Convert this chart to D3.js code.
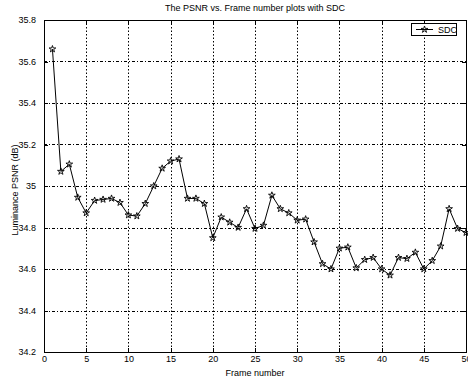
<!DOCTYPE html>
<html>
<head>
<meta charset="utf-8">
<style>
  body { margin: 0; background: #fff; }
  svg { font-family: "Liberation Sans", Arial, sans-serif; }
  .grid-h line { stroke: #000; stroke-width: 1; stroke-dasharray: 3,2,1,2; }
  .grid-v line { stroke: #000; stroke-width: 1; stroke-dasharray: 1.5,2; }
  .axis path, .axis line { stroke: #000; shape-rendering: crispEdges; }
  .axis text { font-size: 9px; fill: #000; }
</style>
</head>
<body>
<svg id="chart" width="468" height="378"></svg>
<script src="https://cdn.jsdelivr.net/npm/d3@7/dist/d3.min.js"></script>
<script>
// frame numbers and luminance PSNR values
let frames = d3.range(1, 51)
let psnr = [35.66, 35.07, 35.105, 34.945, 34.87, 34.93, 34.935, 34.94, 34.92, 34.86,
            34.855, 34.915, 35.0, 35.085, 35.12, 35.13, 34.94, 34.94, 34.915, 34.75,
            34.85, 34.825, 34.80, 34.89, 34.795, 34.81, 34.955, 34.89, 34.87, 34.835,
            34.84, 34.73, 34.625, 34.60, 34.70, 34.705, 34.605, 34.645, 34.655, 34.60,
            34.57, 34.655, 34.65, 34.68, 34.60, 34.64, 34.71, 34.89, 34.795, 34.775]
let xTicks = [0, 5, 10, 15, 20, 25, 30, 35, 40, 45, 50]
let yTicks = [34.2, 34.4, 34.6, 34.8, 35, 35.2, 35.4, 35.6, 35.8]
let yTickLabels = ["34.2", "34.4", "34.6", "34.8", "35", "35.2", "35.4", "35.6", "35.8"]
let seriesName = "SDC"

let svg = d3.select("#chart")
let pLeft = 44, pRight = 466, pTop = 20, pBottom = 352

let xScale = d3.scaleLinear().domain([0, 50]).range([pLeft, pRight])
let yScale = d3.scaleLinear().domain([34.2, 35.8]).range([pBottom, pTop])

// grid lines
svg.append("g").attr("class", "grid-h")
  .selectAll("line").data(yTicks.slice(1, -1)).join("line")
  .attr("x1", pLeft).attr("x2", pRight)
  .attr("y1", d => Math.round(yScale(d)) + 0.5).attr("y2", d => Math.round(yScale(d)) + 0.5)

svg.append("g").attr("class", "grid-v")
  .selectAll("line").data(xTicks.slice(1, -1)).join("line")
  .attr("y1", pTop).attr("y2", pBottom)
  .attr("x1", d => Math.round(xScale(d)) + 0.5).attr("x2", d => Math.round(xScale(d)) + 0.5)

// axes (ticks inward, box all round)
svg.append("g").attr("class", "axis")
  .attr("transform", "translate(0," + pBottom + ")")
  .call(d3.axisBottom(xScale).tickValues(xTicks).tickSize(-4).tickPadding(4))

svg.append("g").attr("class", "axis")
  .attr("transform", "translate(0," + pTop + ")")
  .call(d3.axisTop(xScale).tickValues(xTicks).tickSize(-4).tickFormat(""))

svg.append("g").attr("class", "axis")
  .attr("transform", "translate(" + pLeft + ",0)")
  .call(d3.axisLeft(yScale).tickValues(yTicks).tickSize(-4).tickPadding(8)
    .tickFormat((d, i) => yTickLabels[i]))

svg.append("g").attr("class", "axis")
  .attr("transform", "translate(" + pRight + ",0)")
  .call(d3.axisRight(yScale).tickValues(yTicks).tickSize(-4).tickFormat(""))

// data line
let valueLine = d3.line()
  .x((d, i) => xScale(frames[i]))
  .y(d => yScale(d))

svg.append("path")
  .datum(psnr)
  .attr("d", valueLine)
  .attr("fill", "none")
  .attr("stroke", "#000")
  .attr("stroke-width", 1)

let star = d3.symbol().type(d3.symbolStar).size(14)
svg.append("g").selectAll("path").data(psnr).join("path")
  .attr("transform", (d, i) => "translate(" + xScale(frames[i]) + "," + yScale(d) + ")")
  .attr("d", star)
  .attr("fill", "none")
  .attr("stroke", "#000")
  .attr("stroke-width", 0.9)

// titles
svg.append("text")
  .attr("x", (pLeft + pRight) / 2).attr("y", 11)
  .attr("text-anchor", "middle").attr("font-size", 9)
  .text("The PSNR vs. Frame number plots with SDC")

svg.append("text")
  .attr("x", (pLeft + pRight) / 2).attr("y", 376)
  .attr("text-anchor", "middle").attr("font-size", 9)
  .text("Frame number")

svg.append("text")
  .attr("transform", "translate(18,190) rotate(-90)")
  .attr("text-anchor", "middle").attr("font-size", 9)
  .text("Luminance PSNR (dB)")

// legend
let legend = svg.append("g").attr("transform", "translate(411,23)")
legend.append("rect")
  .attr("x", 0.5).attr("y", 0.5).attr("width", 45).attr("height", 12)
  .attr("fill", "#fff").attr("stroke", "#000")
legend.append("line")
  .attr("x1", 5).attr("x2", 22).attr("y1", 6.5).attr("y2", 6.5)
  .attr("stroke", "#000")
legend.append("path")
  .attr("transform", "translate(13.5,6.5)")
  .attr("d", star).attr("fill", "none").attr("stroke", "#000").attr("stroke-width", 0.9)
legend.append("text")
  .attr("x", 27).attr("y", 10).attr("font-size", 9)
  .text(seriesName)
</script>
</body>
</html>
